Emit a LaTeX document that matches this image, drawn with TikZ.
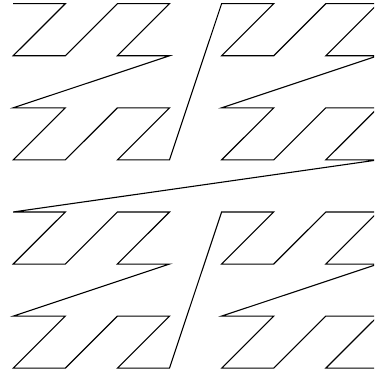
\documentclass[tikz,border=0pt]{standalone}
\begin{document}
\begin{tikzpicture}[curve/.style={line width=1.1pt, line join=miter, black}]
\useasboundingbox (0,0) rectangle (374pt,-374pt);
\clip (0,0) rectangle (374pt,-374pt);
\begin{scope}[shift={(13.2pt,-3.7pt)}, x=52.1pt, y=-52.07pt]
\draw[curve] (0,0)--(1,0)--(0,1)--(1,1)--(2,0)--(3,0)--(2,1)--(3,1)--(0,2)--(1,2)--(0,3)--(1,3)--(2,2)--(3,2)--(2,3)--(3,3)
--(4,0)--(5,0)--(4,1)--(5,1)--(6,0)--(7,0)--(6,1)--(7,1)--(4,2)--(5,2)--(4,3)--(5,3)--(6,2)--(7,2)--(6,3)--(7,3)
--(0,4)--(1,4)--(0,5)--(1,5)--(2,4)--(3,4)--(2,5)--(3,5)--(0,6)--(1,6)--(0,7)--(1,7)--(2,6)--(3,6)--(2,7)--(3,7)
--(4,4)--(5,4)--(4,5)--(5,5)--(6,4)--(7,4)--(6,5)--(7,5)--(4,6)--(5,6)--(4,7)--(5,7)--(6,6)--(7,6)--(6,7)--(7,7);
\end{scope}
\end{tikzpicture}
\end{document}
